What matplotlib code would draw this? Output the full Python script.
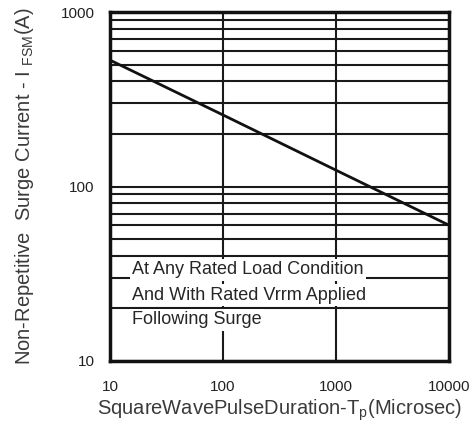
import matplotlib
matplotlib.use("Agg")
import matplotlib.pyplot as plt
import matplotlib.ticker as mticker

# surge rating curve
pulse_us = [10, 100, 1000, 10000]
i_fsm = [530, 257, 124, 60]

x_ticks = [10, 100, 1000, 10000]
y_ticks = [10, 100, 1000]

notes = ["At Any Rated Load Condition",
         "And With Rated Vrrm Applied",
         "Following Surge"]

plt.rcParams['font.family'] = ['Liberation Sans', 'DejaVu Sans']

fig = plt.figure(figsize=(4.76, 4.32), dpi=100)
ax = fig.add_axes([110 / 476, 1 - 361 / 432, 339 / 476, 349 / 432])

ax.set_xscale('log')
ax.set_yscale('log')
ax.set_xlim(10, 10000)
ax.set_ylim(10, 1000)

ax.xaxis.set_major_locator(mticker.FixedLocator(x_ticks))
ax.yaxis.set_major_locator(mticker.FixedLocator(y_ticks))
ax.xaxis.set_minor_locator(mticker.NullLocator())
ax.yaxis.set_minor_locator(mticker.LogLocator(base=10, subs=range(2, 10)))
ax.yaxis.set_minor_formatter(mticker.NullFormatter())
ax.xaxis.set_major_formatter(mticker.FixedFormatter([str(v) for v in x_ticks]))
ax.yaxis.set_major_formatter(mticker.FixedFormatter([str(v) for v in y_ticks]))

ax.grid(True, which='major', axis='x', color='#1a1a1a', lw=1.5)
ax.grid(True, which='both', axis='y', color='#1a1a1a', lw=1.5)
ax.set_axisbelow(True)

ax.tick_params(which='both', length=0, colors='#222222')
ax.tick_params(axis='x', labelsize=11, pad=14)
ax.tick_params(axis='y', labelsize=11, pad=11)

for s in ax.spines.values():
    s.set_linewidth(2.5)
    s.set_color('#111111')

ax.plot(pulse_us, i_fsm, color='#111111', lw=2)

# condition note, white backing hides the grid behind the words
for k, line in enumerate(notes):
    ax.text(132 / 476, 1 - (270 + 25 * k) / 432, line, transform=fig.transFigure,
            ha='left', va='center', fontsize=13, color='#262626',
            bbox=dict(facecolor='white', edgecolor='none', pad=1.5))

ax.set_xlabel('SquareWavePulseDuration-T$_\\mathregular{p}$(Microsec)', fontsize=14.5,
              color='#3a3a3a', labelpad=2)
ax.set_ylabel('Non-Repetitive  Surge Current - I $_\\mathregular{FSM}$(A)', fontsize=14.5,
              color='#3a3a3a', labelpad=18)

fig.savefig('out.png', dpi=100)
